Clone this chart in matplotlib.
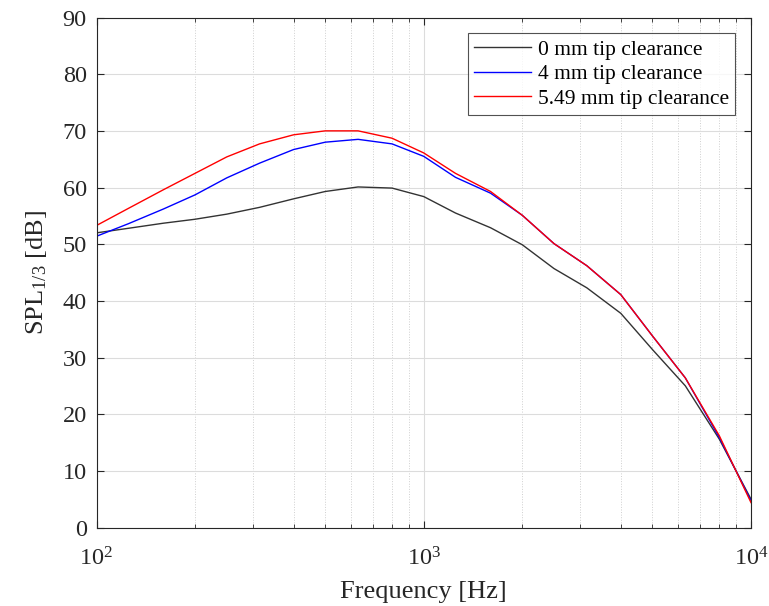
import matplotlib
matplotlib.use("Agg")
import matplotlib.pyplot as plt
from matplotlib.ticker import LogLocator, FixedLocator, NullFormatter

plt.rcParams['font.family'] = ['Liberation Serif', 'DejaVu Serif']
plt.rcParams['mathtext.fontset'] = 'custom'
plt.rcParams['mathtext.rm'] = 'Liberation Serif'
plt.rcParams['mathtext.it'] = 'Liberation Serif:italic'

# third-octave band centre frequencies
freq = [100, 125, 160, 200, 250, 315, 400, 500, 630, 800, 1000,
        1250, 1600, 2000, 2500, 3150, 4000, 5000, 6300, 8000, 10000]

spl_0mm = [52.0, 52.8, 53.7, 54.4, 55.3, 56.5, 58.0, 59.3, 60.1, 59.9, 58.4,
           55.5, 52.9, 49.9, 45.7, 42.3, 37.8, 31.4, 25.0, 15.6, 5.0]
spl_4mm = [51.4, 53.6, 56.2, 58.7, 61.7, 64.3, 66.7, 68.0, 68.5, 67.7, 65.5,
           61.8, 59.0, 55.1, 50.1, 46.2, 41.1, 33.8, 26.4, 15.9, 4.7]
spl_549mm = [53.3, 56.3, 59.6, 62.5, 65.4, 67.7, 69.3, 70.0, 70.0, 68.7, 66.1,
             62.5, 59.3, 55.1, 50.1, 46.2, 41.1, 33.8, 26.4, 16.2, 4.4]

labels = ['0 mm tip clearance', '4 mm tip clearance', '5.49 mm tip clearance']

fig = plt.figure(figsize=(7.69, 6.06), dpi=100)
ax = fig.add_axes([0.1255, 0.1295, 0.8511, 0.8416])

ax.plot(freq, spl_0mm, color='#333333', linewidth=1.0, label=labels[0])
ax.plot(freq, spl_4mm, color='#0000ff', linewidth=1.0, label=labels[1])
ax.plot(freq, spl_549mm, color='#ff0000', linewidth=1.0, label=labels[2])

ax.set_xscale('log')
ax.set_xlim(100, 10000)
ax.set_ylim(0, 90)
ax.set_yticks(range(0, 91, 10))
ax.xaxis.set_major_locator(FixedLocator([100, 1000, 10000]))
ax.set_xticklabels([r'$10^2$', r'$10^3$', r'$10^4$'])
ax.xaxis.set_minor_locator(LogLocator(base=10, subs=range(2, 10)))
ax.xaxis.set_minor_formatter(NullFormatter())

ax.grid(True, which='major', color='#dcdcdc', linewidth=0.8, linestyle='-')
ax.grid(True, which='minor', axis='x', color='#cfcfcf', linewidth=0.7, linestyle=':')
ax.set_axisbelow(True)

ax.tick_params(which='both', direction='in', top=True, right=True, colors='#262626')
ax.tick_params(which='major', length=5, width=0.8)
ax.tick_params(which='minor', length=3, width=0.6)
ax.tick_params(axis='y', labelsize=17.5, pad=7)
ax.tick_params(axis='x', labelsize=17.5, pad=14)
for s in ax.spines.values():
    s.set_color('#262626')
    s.set_linewidth(0.8)

ax.set_xlabel('Frequency [Hz]', fontsize=19, color='#262626', labelpad=7.5)
ax.set_ylabel(r'SPL$_{1/3}$ [dB]', fontsize=19, color='#262626', labelpad=10)

leg = ax.legend(loc='upper right', bbox_to_anchor=(0.976, 0.969), fontsize=15.5,
                frameon=True, fancybox=False, edgecolor='#262626',
                borderpad=0.3, labelspacing=0.2, handlelength=2.65,
                handletextpad=0.3, borderaxespad=0)
leg.get_frame().set_linewidth(0.8)

fig.savefig('out.png', dpi=100)
